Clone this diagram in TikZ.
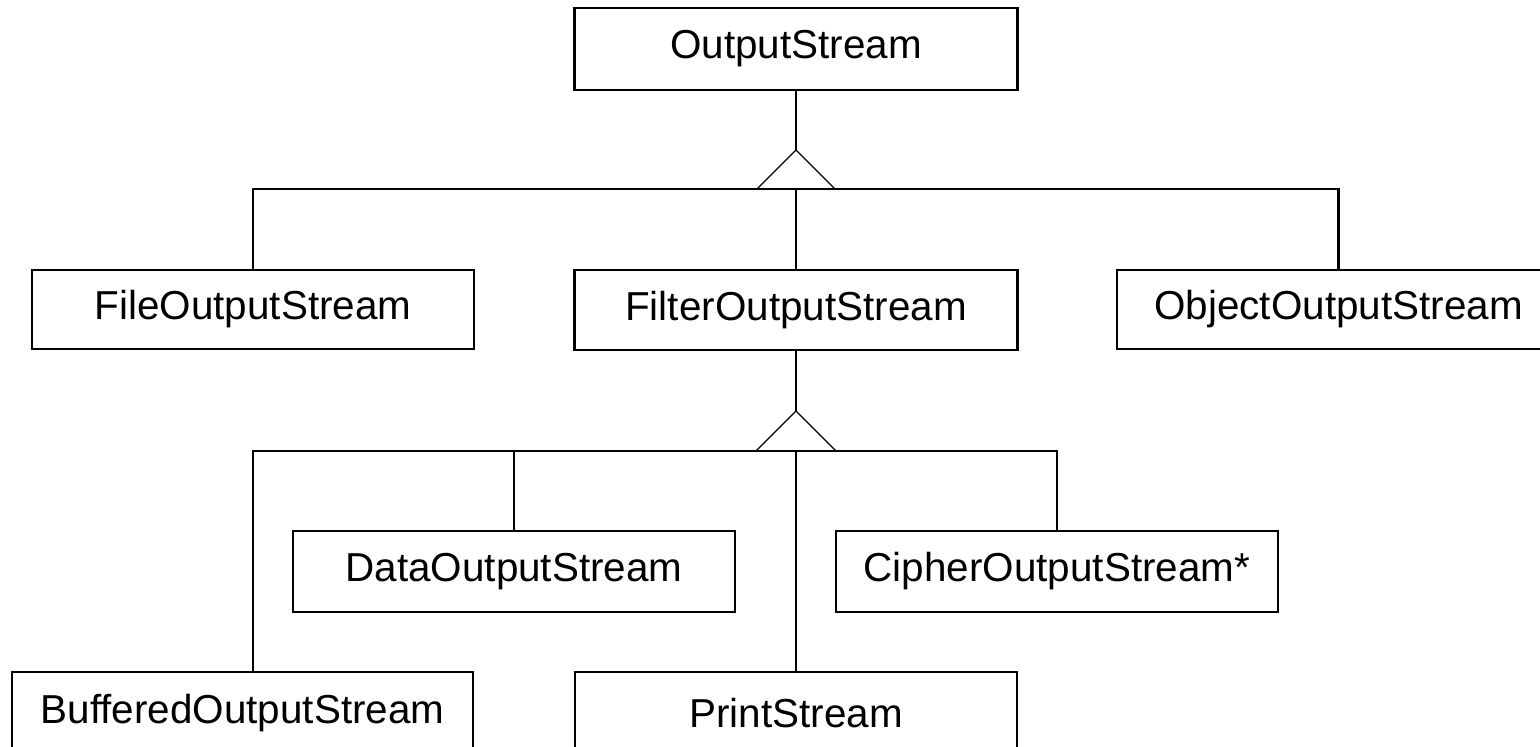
\documentclass[tikz,border=0pt]{standalone}
\usepackage{fontspec}
\setmainfont{Liberation Sans}
\usepackage{tikz}
\usetikzlibrary{positioning, calc}
\tikzstyle{classe} = [rectangle, minimum width = 4.43cm, minimum height = 0.8cm, text centered, draw = black, line width = 0.6pt, inner sep = 0pt, font = \fontsize{11.5}{13}\selectfont]
\tikzstyle{lien} = [draw = black, line width = 0.6pt]
\tikzstyle{heritage} = [draw = black, line width = 0.35pt]

\begin{document}
\begin{tikzpicture}
\useasboundingbox (0,0) rectangle (15.4,-7.47);
\node (1) [classe, minimum height = 0.82cm] at (7.96,-0.49) {OutputStream};
\node (2) [classe, minimum width = 4.42cm, minimum height = 0.79cm] at (2.53,-3.095) {FileOutputStream};
\node (3) [classe] at (7.96,-3.10) {FilterOutputStream};
\node (4) [classe, minimum height = 0.79cm] at (13.385,-3.095) {ObjectOutputStream};
\node (5) [classe, minimum width = 4.42cm, minimum height = 0.81cm] at (5.14,-5.715) {DataOutputStream};
\node (6) [classe, minimum width = 4.42cm, minimum height = 0.81cm] at (10.57,-5.715) {CipherOutputStream*};
\node (7) [classe, minimum width = 4.61cm, minimum height = 0.82cm] at (2.425,-7.13) {BufferedOutputStream};
\node (8) [classe, minimum width = 4.42cm, minimum height = 0.82cm] at (7.96,-7.13) {PrintStream};
% OutputStream et ses sous-classes
\coordinate (a) at (7.96,-1.50);
\coordinate (b) at (7.96,-1.89);
\draw[heritage] (a) -- ($(b)+(-0.39,0)$) -- ($(b)+(0.39,0)$) -- cycle;
\draw[lien] (1) -- (a);
\draw[lien] (2.north) |- (b) -| (4.north);
\draw[lien] (b) -- (3);
% FilterOutputStream et ses sous-classes
\coordinate (c) at (7.96,-4.11);
\coordinate (d) at (7.96,-4.51);
\draw[heritage] (c) -- ($(d)+(-0.40,0)$) -- ($(d)+(0.40,0)$) -- cycle;
\draw[lien] (3) -- (c);
\draw[lien] (7.north -| 2.north) |- (d) -| (6.north);
\draw[lien] (5.north) -- (5.north |- d);
\draw[lien] (d) -- (8);
\end{tikzpicture}
\end{document}
